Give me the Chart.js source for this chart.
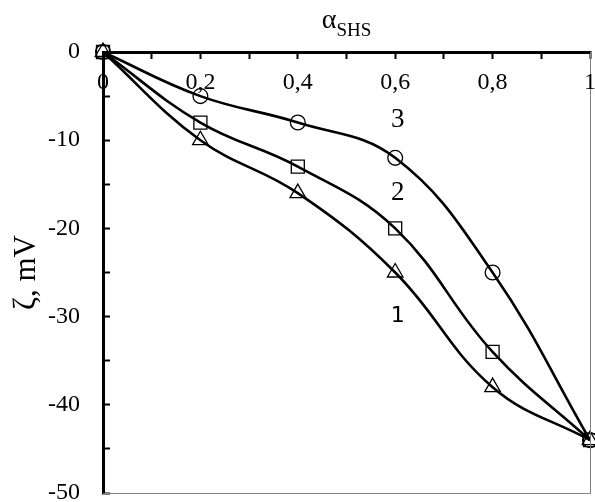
<!DOCTYPE html>
<html>
<head>
<meta charset="utf-8">
<script src="https://cdn.jsdelivr.net/npm/chart.js@4/dist/chart.umd.min.js"></script>
<style>
    html, body { margin: 0; padding: 0; background: #fff; }
    #wrap { width: 595px; height: 502px; position: relative; }
</style>
</head>
<body>
<div id="wrap"><canvas id="chart"></canvas></div>
<script>
const alphaValues = [0, 0.2, 0.4, 0.6, 0.8, 1]
const curve1 = [0, -10, -16, -25, -38, -44]
const curve2 = [0, -8, -13, -20, -34, -44]
const curve3 = [0, -5, -8, -12, -25, -44]
const xTicks = [0, 0.2, 0.4, 0.6, 0.8, 1]
const yTicks = [0, -10, -20, -30, -40, -50]
const curveNames = ["1", "2", "3"]
const curveLabelPos = [[0.605, -30], [0.605, -16], [0.605, -7.7]]

const serif = "'Liberation Serif', 'Times New Roman', serif"

function toPoints(ys) {
    return alphaValues.map((x, i) => ({ x: x, y: ys[i] }))
}

function formatComma(v) {
    return String(Math.round(v * 10) / 10).replace(".", ",")
}

function makeSet(name, ys, style, radius) {
    return {
        label: name,
        data: toPoints(ys),
        borderColor: "#000",
        borderWidth: 2.6,
        tension: 0.4,
        pointStyle: style,
        pointRadius: radius,
        pointBorderColor: "#000",
        pointBackgroundColor: "rgba(0,0,0,0)",
        pointBorderWidth: 1.3,
        fill: false,
        clip: false,
    }
}

// axis title, x tick labels, curve numbers and the thin frame right/bottom
const extrasPlugin = {
    id: "extras",
    afterDraw(chart) {
        const ctx = chart.ctx
        const area = chart.chartArea
        const xs = chart.scales.x
        const ys = chart.scales.y
        ctx.save()

        ctx.strokeStyle = "#7f7f7f"
        ctx.lineWidth = 1
        ctx.beginPath()
        ctx.moveTo(area.left, area.bottom + 0.5)
        ctx.lineTo(area.right + 0.5, area.bottom + 0.5)
        ctx.lineTo(area.right + 0.5, area.top)
        ctx.stroke()

        ctx.fillStyle = "#000"
        ctx.textAlign = "center"
        ctx.textBaseline = "middle"
        ctx.font = "24px " + serif
        xTicks.forEach(v => {
            ctx.fillText(formatComma(v), xs.getPixelForValue(v), 83)
        })

        ctx.textBaseline = "alphabetic"
        ctx.textAlign = "left"
        ctx.font = "28px " + serif
        const aw = ctx.measureText("α").width
        ctx.font = "19px " + serif
        const sw = ctx.measureText("SHS").width
        const cx = (area.left + area.right) / 2
        const startX = cx - (aw + sw) / 2
        ctx.font = "28px " + serif
        ctx.fillText("α", startX, 28)
        ctx.font = "19px " + serif
        ctx.fillText("SHS", startX + aw, 36)

        ctx.textAlign = "center"
        ctx.textBaseline = "middle"
        curveNames.forEach((n, i) => {
            ctx.font = n === "1" ? "22px 'DejaVu Sans', sans-serif" : "27px " + serif
            ctx.fillText(n, xs.getPixelForValue(curveLabelPos[i][0]), ys.getPixelForValue(curveLabelPos[i][1]))
        })
        ctx.restore()
    }
}

new Chart("chart", {
    type: "line",
    data: {
        datasets: [
            makeSet("1", curve1, "triangle", 9),
            makeSet("2", curve2, "rect", 9.2),
            makeSet("3", curve3, "circle", 7.4),
        ]
    },
    options: {
        responsive: true,
        maintainAspectRatio: false,
        animation: false,
        layout: { autoPadding: false, padding: { top: 0, left: 0, right: 5, bottom: 9 } },
        plugins: {
            legend: { display: false },
            tooltip: { enabled: false },
        },
        scales: {
            x: {
                type: "linear",
                position: "top",
                min: 0,
                max: 1,
                afterFit: (s) => { s.height = 52; s.paddingLeft = 0; s.paddingRight = 0 },
                afterBuildTicks: (s) => {
                    s.ticks = [0, 0.1, 0.2, 0.3, 0.4, 0.5, 0.6, 0.7, 0.8, 0.9, 1].map(v => ({ value: v }))
                },
                grid: {
                    drawOnChartArea: false,
                    drawTicks: true,
                    tickLength: -7,
                    tickWidth: 2,
                    tickColor: "#000",
                },
                border: { color: "#000", width: 3 },
                ticks: {
                    autoSkip: false,
                    callback: () => "",
                },
            },
            y: {
                type: "linear",
                min: -50,
                max: 0,
                afterFit: (s) => { s.width = 103; s.paddingTop = 0; s.paddingBottom = 0 },
                afterBuildTicks: (s) => {
                    const t = []
                    for (let v = 0; v >= -50; v -= 5) t.push({ value: v })
                    s.ticks = t
                },
                grid: {
                    drawOnChartArea: false,
                    drawTicks: true,
                    tickLength: -7,
                    tickWidth: 2,
                    tickColor: "#000",
                },
                border: { color: "#000", width: 3 },
                ticks: {
                    padding: 30,
                    autoSkip: false,
                    color: "#000",
                    font: { family: serif, size: 24 },
                    callback: (v) => yTicks.includes(v) ? String(v) : "",
                },
                title: {
                    display: true,
                    text: "ζ, mV",
                    color: "#000",
                    font: { family: serif, size: 31 },
                    padding: { top: 8, bottom: 0 },
                },
            },
        },
    },
    plugins: [extrasPlugin],
})
</script>
</body>
</html>
